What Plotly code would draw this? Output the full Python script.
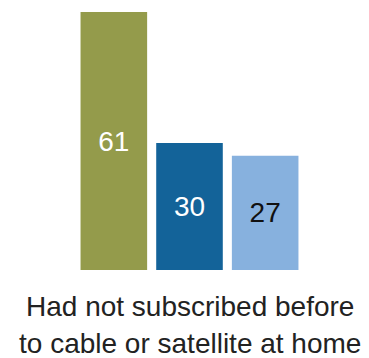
import plotly.graph_objects as go

series = ["Series A", "Series B", "Series C"]
values = [61, 30, 27]
bar_colors = ["#949B4B", "#136399", "#87B1DE"]
label_colors = ["white", "white", "#111111"]
category_lines = ["Had not subscribed before", "to cable or satellite at home"]

fig = go.Figure(
    go.Bar(
        x=series,
        y=values,
        marker=dict(color=bar_colors, line=dict(width=0)),
        text=[str(v) for v in values],
        textposition="inside",
        insidetextanchor="middle",
        textfont=dict(size=28, color=label_colors, family="Liberation Sans, Arial"),
        hoverinfo="skip",
    )
)

for line, ypos in zip(category_lines, [-0.14, -0.284]):
    fig.add_annotation(
        text=line,
        xref="paper", yref="paper",
        x=0.5, y=ypos,
        xanchor="center", yanchor="middle",
        showarrow=False,
        font=dict(size=28, color="#222222", family="Liberation Sans, Arial"),
    )

fig.update_layout(
    width=361, height=350,
    margin=dict(l=67.5, r=65.5, t=4, b=88),
    paper_bgcolor="white", plot_bgcolor="white",
    bargap=0.12,
    showlegend=False,
    xaxis=dict(visible=False),
    yaxis=dict(visible=False, range=[0, 61]),
)

fig.write_html("out.html")
